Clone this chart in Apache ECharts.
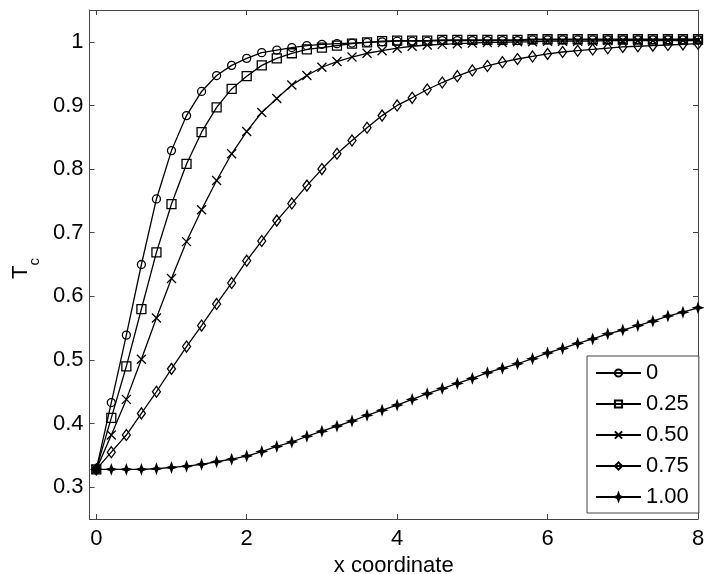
<!DOCTYPE html>
<html>
<head>
<meta charset="utf-8">
<script src="https://cdn.jsdelivr.net/npm/echarts@6/dist/echarts.min.js"></script>
<style>html,body{margin:0;padding:0;background:#fff}#c{width:704px;height:574px}</style>
</head>
<body>
<div id="c"></div>
<script>
var xCoord = [0, 0.2, 0.4, 0.6, 0.8, 1.0, 1.2, 1.4, 1.6, 1.8, 2.0, 2.2, 2.4, 2.6, 2.8, 3.0, 3.2, 3.4, 3.6, 3.8, 4.0,
  4.2, 4.4, 4.6, 4.8, 5.0, 5.2, 5.4, 5.6, 5.8, 6.0, 6.2, 6.4, 6.6, 6.8, 7.0, 7.2, 7.4, 7.6, 7.8, 8.0];
var seriesNames = ['0', '0.25', '0.50', '0.75', '1.00'];
var s0 = [0.328, 0.433, 0.539, 0.650, 0.753, 0.829, 0.884, 0.922, 0.947, 0.963, 0.974, 0.983, 0.987, 0.991, 0.994, 0.996, 0.997, 0.998, 0.999, 1.000, 1.001,
  1.001, 1.001, 1.002, 1.002, 1.002, 1.002, 1.002, 1.002, 1.003, 1.003, 1.003, 1.003, 1.003, 1.003, 1.003, 1.003, 1.003, 1.003, 1.003, 1.003];
var s025 = [0.328, 0.409, 0.490, 0.580, 0.669, 0.745, 0.808, 0.858, 0.897, 0.926, 0.946, 0.963, 0.974, 0.982, 0.988, 0.991, 0.994, 0.997, 0.999, 1.001, 1.002,
  1.002, 1.002, 1.003, 1.003, 1.003, 1.003, 1.003, 1.003, 1.004, 1.004, 1.004, 1.004, 1.004, 1.004, 1.004, 1.004, 1.004, 1.004, 1.004, 1.004];
var s050 = [0.328, 0.382, 0.438, 0.501, 0.566, 0.628, 0.686, 0.736, 0.782, 0.824, 0.859, 0.889, 0.911, 0.932, 0.947, 0.960, 0.969, 0.976, 0.982, 0.986, 0.990,
  0.993, 0.995, 0.996, 0.997, 0.998, 0.999, 0.999, 1.000, 1.000, 1.001, 1.001, 1.001, 1.001, 1.002, 1.002, 1.002, 1.002, 1.002, 1.002, 1.002];
var s075 = [0.328, 0.355, 0.382, 0.416, 0.450, 0.486, 0.521, 0.554, 0.588, 0.621, 0.656, 0.687, 0.719, 0.746, 0.774, 0.800, 0.824, 0.845, 0.865, 0.884, 0.900,
  0.912, 0.925, 0.936, 0.946, 0.955, 0.962, 0.968, 0.973, 0.977, 0.981, 0.984, 0.986, 0.988, 0.990, 0.992, 0.993, 0.994, 0.995, 0.996, 0.997];
var s100 = [0.328, 0.328, 0.328, 0.328, 0.329, 0.331, 0.333, 0.336, 0.340, 0.344, 0.349, 0.356, 0.364, 0.371, 0.380, 0.388, 0.396, 0.404, 0.413, 0.421, 0.429,
  0.438, 0.447, 0.455, 0.463, 0.471, 0.480, 0.487, 0.494, 0.502, 0.511, 0.518, 0.526, 0.533, 0.541, 0.547, 0.554, 0.561, 0.569, 0.575, 0.582];
var xTicks = [0, 2, 4, 6, 8];
var yTicks = [0.3, 0.4, 0.5, 0.6, 0.7, 0.8, 0.9, 1];

var FONT = 'Liberation Sans';
var AX = '#444';

function pairs(arr) { return xCoord.map(function (x, i) { return [x, arr[i]]; }); }

var markers = [
  { symbol: 'circle', size: 8, fill: 'rgba(0,0,0,0)' },
  { symbol: 'rect', size: 9, fill: 'rgba(0,0,0,0)' },
  { symbol: 'path://M0,0L10,10M10,0L0,10', size: 9, fill: 'rgba(0,0,0,0)' },
  { symbol: 'diamond', size: [8, 11], fill: 'rgba(0,0,0,0)' },
  { symbol: 'path://M5,0L6.3,3.7L10,5L6.3,6.3L5,10L3.7,6.3L0,5L3.7,3.7Z', size: 9, fill: '#000' }
];
var allData = [s0, s025, s050, s075, s100];

var series = allData.map(function (d, i) {
  var m = markers[i];
  return {
    name: seriesNames[i],
    type: 'line',
    data: pairs(d),
    symbol: m.symbol,
    symbolSize: m.size,
    showSymbol: true,
    animation: false,
    lineStyle: { color: '#000', width: 1.3 },
    itemStyle: { color: m.fill, borderColor: '#000', borderWidth: 1.3 },
    emphasis: { disabled: true }
  };
});

var labelStyle = { fontFamily: FONT, fontSize: 22, color: '#000' };

var chart = echarts.init(document.getElementById('c'), null, { renderer: 'canvas' });
chart.setOption({
  animation: false,
  backgroundColor: '#fff',
  grid: { left: 89.5, right: 6, top: 10, bottom: 55, containLabel: false, outerBoundsMode: 'none' },
  xAxis: [{
    type: 'value', min: -0.09, max: 8, position: 'bottom',
    axisLine: { onZero: false, lineStyle: { color: AX, width: 1 } },
    axisTick: { inside: true, length: 5, customValues: xTicks, lineStyle: { color: AX } },
    axisLabel: Object.assign({ customValues: xTicks, margin: 9 }, labelStyle),
    splitLine: { show: false },
    name: 'x coordinate', nameLocation: 'middle', nameGap: 31,
    nameTextStyle: { fontFamily: FONT, fontSize: 22, color: '#000' }
  }, {
    type: 'value', min: -0.09, max: 8, position: 'top',
    axisLine: { onZero: false, lineStyle: { color: AX, width: 1 } },
    axisTick: { inside: true, length: 5, customValues: xTicks, lineStyle: { color: AX } },
    axisLabel: { show: false },
    splitLine: { show: false }
  }],
  yAxis: [{
    type: 'value', min: 0.25, max: 1.05, position: 'left',
    axisLine: { show: true, onZero: false, lineStyle: { color: AX, width: 1 } },
    axisTick: { show: true, inside: true, length: 5, customValues: yTicks, lineStyle: { color: AX } },
    axisLabel: Object.assign({ customValues: yTicks, margin: 6 }, labelStyle),
    splitLine: { show: false },
    name: '{t|T}{s|c}', nameLocation: 'middle', nameGap: 46, nameRotate: 90,
    nameTextStyle: {
      fontFamily: FONT, color: '#000',
      rich: {
        t: { fontFamily: FONT, fontSize: 22, color: '#000' },
        s: { fontFamily: FONT, fontSize: 15, color: '#000', padding: [28, 8, 0, 0] }
      }
    }
  }, {
    type: 'value', min: 0.25, max: 1.05, position: 'right',
    axisLine: { show: true, onZero: false, lineStyle: { color: AX, width: 1 } },
    axisTick: { show: true, inside: true, length: 5, customValues: yTicks, lineStyle: { color: AX } },
    axisLabel: { show: false },
    splitLine: { show: false }
  }],
  legend: {
    data: seriesNames,
    orient: 'vertical',
    left: 587, top: 356,
    padding: [6, 10, 5, 8],
    itemWidth: 45, itemHeight: 9, itemGap: 9,
    backgroundColor: '#fff',
    borderColor: AX, borderWidth: 1, borderRadius: 0,
    textStyle: { fontFamily: FONT, fontSize: 22, color: '#000', lineHeight: 21 },
    selectedMode: false
  },
  series: series
});
</script>
</body>
</html>
